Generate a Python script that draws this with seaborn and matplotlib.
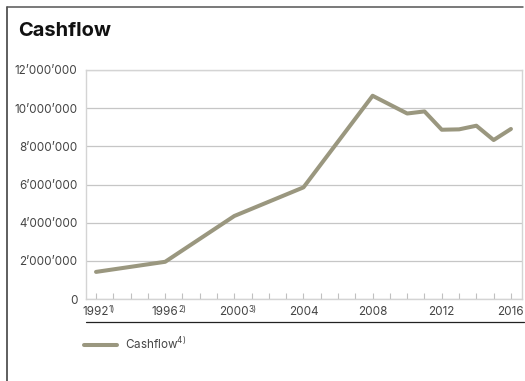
import matplotlib
matplotlib.use("Agg")
import matplotlib.pyplot as plt
from matplotlib.lines import Line2D
from matplotlib.ticker import MultipleLocator, FuncFormatter
import seaborn as sns
import pandas as pd

years = [1992, 1996, 2000, 2004, 2008, 2010, 2011, 2012, 2013, 2014, 2015, 2016]
cashflow = [1420000, 1950000, 4350000, 5850000, 10650000, 9720000, 9830000,
            8870000, 8890000, 9080000, 8330000, 8910000]
tick_years = [1992, 1996, 2000, 2004, 2008, 2012, 2016]
tick_notes = ["1)", "2)", "3)", "", "", "", ""]
y_ticks = [0, 2000000, 4000000, 6000000, 8000000, 10000000, 12000000]
series_label = "Cashflow$^{4)}$"
title = "Cashflow"

sns.set_style("white")
plt.rcParams['font.family'] = ['Inter', 'DejaVu Sans']
plt.rcParams['mathtext.fontset'] = 'custom'
plt.rcParams['mathtext.rm'] = 'Inter'
plt.rcParams['mathtext.it'] = 'Inter'
plt.rcParams['mathtext.default'] = 'regular'

df = pd.DataFrame({"year": years, "value": cashflow})

fig = plt.figure(figsize=(5.25, 3.81), dpi=100)
ax = fig.add_axes([86/525, 1-299/381, (522-86)/525, (299-70)/381])

line_color = "#9a977f"
sns.lineplot(data=df, x="year", y="value", ax=ax, color=line_color,
             linewidth=2.9, label=series_label, legend=False)

ax.set_xlim(1991.42, 2016.64)
ax.set_ylim(0, 12000000)
ax.set_xticks(tick_years)
ax.set_xticklabels([str(y) for y in tick_years])
ax.xaxis.set_minor_locator(MultipleLocator(1))
ax.set_yticks(y_ticks)
ax.yaxis.set_major_formatter(FuncFormatter(
    lambda v, p: "0" if v == 0 else f"{int(v):,}".replace(",", "’")))
ax.set_xlabel("")
ax.set_ylabel("")

ax.grid(axis="y", color="#c6c6c6", linewidth=0.9)
ax.grid(axis="x", visible=False)
for s in ax.spines.values():
    s.set_color("#d4d4d4")
    s.set_linewidth(1.0)

ax.tick_params(axis="x", which="both", direction="in", length=4.5,
               color="#c0c0c0", width=0.8, bottom=True, pad=5,
               labelsize=8.4, labelcolor="#444444")
ax.tick_params(axis="y", length=0, pad=6, labelsize=8.4, labelcolor="#444444")

fig.text(18/525, 1-31/381, title, fontsize=14.5, fontweight="bold",
         color="#111111", va="center", ha="left")

# frame lines
fig.add_artist(Line2D([7/525, 7/525], [1-7/381, 0], color="#333333", linewidth=1.1))
fig.add_artist(Line2D([7/525, 523/525], [1-7/381, 1-7/381], color="#555555", linewidth=1.1))
# separator
fig.add_artist(Line2D([86/525, 524/525], [1-322/381, 1-322/381], color="#222222", linewidth=0.9))

# legend
handle = Line2D([0], [0], color=line_color, linewidth=2.9)
fig.legend([handle], [series_label], loc="center left",
           bbox_to_anchor=(84/525, 1-344/381), frameon=False,
           handlelength=2.8, handletextpad=0.7, borderpad=0, borderaxespad=0,
           prop={"size": 8.4}, labelcolor="#444444")

# footnote superscripts next to tick labels
fig.canvas.draw()
renderer = fig.canvas.get_renderer()
inv = fig.transFigure.inverted()
for lab, note in zip(ax.get_xticklabels(), tick_notes):
    if not note:
        continue
    bb = lab.get_window_extent(renderer)
    x0, y1 = inv.transform((bb.x1 - 0.5, bb.y1 + 0.5))
    fig.text(x0, y1, note, fontsize=6, color="#444444", ha="left", va="top")

fig.savefig("out.png", dpi=100)
